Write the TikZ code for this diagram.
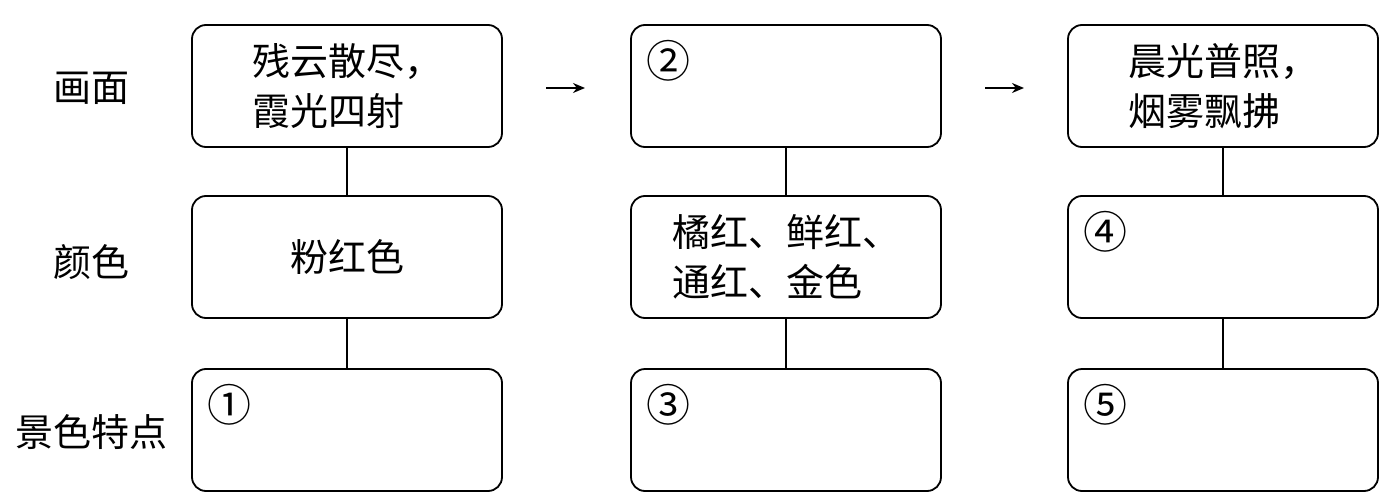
\documentclass[tikz,border=0pt]{standalone}
\usepackage{fontspec}
\setmainfont{Noto Sans CJK SC}
\usetikzlibrary{positioning,arrows.meta}

\begin{document}
\begin{tikzpicture}[
    x=0.5pt, y=-0.5pt,
    every node/.style={font=\fontsize{19}{25}\selectfont},
    scene/.style={rectangle, draw, rounded corners=7pt, minimum width=155pt, minimum height=61pt, line width=0.9pt, align=left, inner sep=0pt},
    rowlabel/.style={inner sep=0pt},
    num/.style={anchor=north west, inner sep=0pt, font=\fontsize{22}{22}\selectfont},
    link/.style={-, line width=0.8pt},
    arrow/.style={-{Stealth[length=6pt,width=5pt]}, line width=0.8pt}
]
    \useasboundingbox (0,0) rectangle (1399,498);

    % Row labels (left)
    \node[rowlabel] (lp) at (92,88) {画面};
    \node[rowlabel] (lc) at (92,262) {颜色};
    \node[rowlabel] (lf) at (92,432) {景色特点};

    % Scenes (p = picture, c = colour, f = feature)
    \node[scene] (p1) at (347,86) {残云散尽，\\霞光四射};
    \node[scene] (p2) at (786,86) {};
    \node[scene] (p3) at (1223,86) {晨光普照，\\烟雾飘拂};
    \node[scene] (c1) at (347,257) {粉红色};
    \node[scene] (c2) at (786,257) {橘红、鲜红、\\通红、金色};
    \node[scene] (c3) at (1223,257) {};
    \node[scene] (f1) at (347,430) {};
    \node[scene] (f2) at (786,430) {};
    \node[scene] (f3) at (1223,430) {};

    % Blanks to fill in
    \node[num] (n1) at ([xshift=8pt,yshift=-8pt]f1.north west) {①};
    \node[num] (n2) at ([xshift=8pt,yshift=-8pt]p2.north west) {②};
    \node[num] (n3) at ([xshift=8pt,yshift=-8pt]f2.north west) {③};
    \node[num] (n4) at ([xshift=8pt,yshift=-8pt]c3.north west) {④};
    \node[num] (n5) at ([xshift=8pt,yshift=-8pt]f3.north west) {⑤};

    % Vertical links
    \foreach \i in {1,2,3} {
        \draw[link] (p\i) -- (c\i);
        \draw[link] (c\i) -- (f\i);
    }

    % Arrows between stages
    \coordinate (a1) at (546,88);
    \coordinate (b1) at (585,88);
    \coordinate (a2) at (985,88);
    \coordinate (b2) at (1024,88);
    \draw[arrow] (a1) -- (b1);
    \draw[arrow] (a2) -- (b2);

\end{tikzpicture}
\end{document}
